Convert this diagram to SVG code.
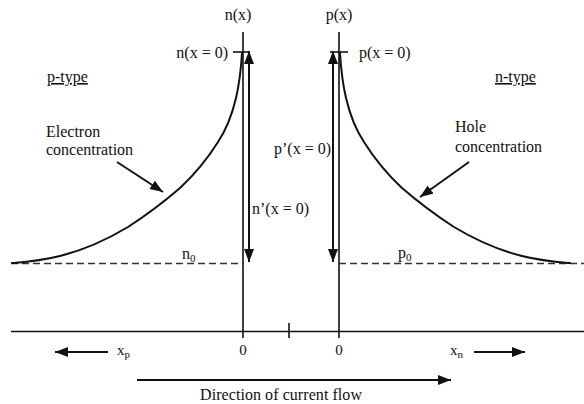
<svg xmlns="http://www.w3.org/2000/svg" width="584" height="404" viewBox="0 0 584 404">
<style>
text{font-family:'Liberation Serif','Times New Roman',Times,'DejaVu Serif',serif;font-size:16px;fill:#111}
.ln{stroke:#111;stroke-width:1.6;fill:none}
.cv{stroke:#111;stroke-width:2;fill:none;stroke-linejoin:round;stroke-linecap:round}
.ar{stroke:#111;stroke-width:2;fill:none}
.dash{stroke:#333;stroke-width:1.6;stroke-dasharray:7 4;fill:none}
.sm{font-size:15px}
.sub{font-size:11px}
</style>
<defs>
<marker id="ah" markerUnits="userSpaceOnUse" markerWidth="14" markerHeight="11" refX="13" refY="5" orient="auto-start-reverse">
<path d="M0,0 L13,5 L0,10 Z" fill="#111"/>
</marker>
</defs>
<rect width="584" height="404" fill="#fff"/>
<g id="axes">
<line class="ln" x1="243" y1="32" x2="243" y2="338"/>
<line class="ln" x1="339" y1="32" x2="339" y2="338"/>
<line class="ln" x1="11" y1="331.5" x2="584" y2="331.5"/>
<line class="ln" x1="233" y1="52" x2="249" y2="52"/>
<line class="ln" x1="330" y1="52" x2="348" y2="52"/>
<line class="ln" x1="289" y1="323" x2="289" y2="338"/>
<line class="dash" x1="11" y1="263.5" x2="243" y2="263.5"/>
<line class="dash" x1="339" y1="263.5" x2="584" y2="263.5"/>
</g>
<g id="electron-curve">
<path class="cv" d="M242,53 C241,70 239,85 236,98 C232,115 226,130 218,142 C208,158 196,173 180,188 C165,201 148,214 128,227 C108,239 88,249 60,256 C40,261 25,262 12,263"/>
</g>
<g id="hole-curve">
<path class="cv" d="M340,53 C341,70 343,85 346,98 C350,115 356,130 364,142 C374,158 386,173 402,188 C417,201 434,214 454,227 C474,239 494,249 522,256 C542,261 557,262 570,263"/>
</g>
<g id="connectors">
<line class="ar" x1="249" y1="51" x2="249" y2="262" marker-start="url(#ah)" marker-end="url(#ah)"/>
<line class="ar" x1="333" y1="51" x2="333" y2="262" marker-start="url(#ah)" marker-end="url(#ah)"/>
<line class="ar" x1="117" y1="162" x2="163" y2="192" marker-end="url(#ah)"/>
<line class="ar" x1="469" y1="162" x2="420" y2="197" marker-end="url(#ah)"/>
<line class="ar" x1="108" y1="352" x2="55" y2="352" marker-end="url(#ah)"/>
<line class="ar" x1="474" y1="352" x2="525" y2="352" marker-end="url(#ah)"/>
<line class="ar" x1="137" y1="380" x2="451" y2="380" marker-end="url(#ah)"/>
</g>
<g id="labels">
<text x="238" y="20" text-anchor="middle">n(x)</text>
<text x="339" y="20" text-anchor="middle">p(x)</text>
<text x="228" y="58" text-anchor="end">n(x = 0)</text>
<text x="359" y="58">p(x = 0)</text>
<text x="47" y="82" text-decoration="underline">p-type</text>
<text x="495" y="82" text-decoration="underline">n-type</text>
<text x="46" y="137">Electron</text>
<text x="46" y="155">concentration</text>
<text x="455" y="132">Hole</text>
<text x="455" y="152">concentration</text>
<text x="274" y="154">p’(x = 0)</text>
<text x="252" y="214">n’(x = 0)</text>
<text x="182" y="259">n<tspan class="sub" dy="3">0</tspan></text>
<text x="398" y="258">p<tspan class="sub" dy="3">0</tspan></text>
<text x="243" y="355" text-anchor="middle" class="sm">0</text>
<text x="339" y="355" text-anchor="middle" class="sm">0</text>
<text x="117" y="355" class="sm">x<tspan class="sub" dy="3">p</tspan></text>
<text x="450" y="355" class="sm">x<tspan class="sub" dy="3">n</tspan></text>
<text x="200" y="400" textLength="162">Direction of current flow</text>
</g>
</svg>
